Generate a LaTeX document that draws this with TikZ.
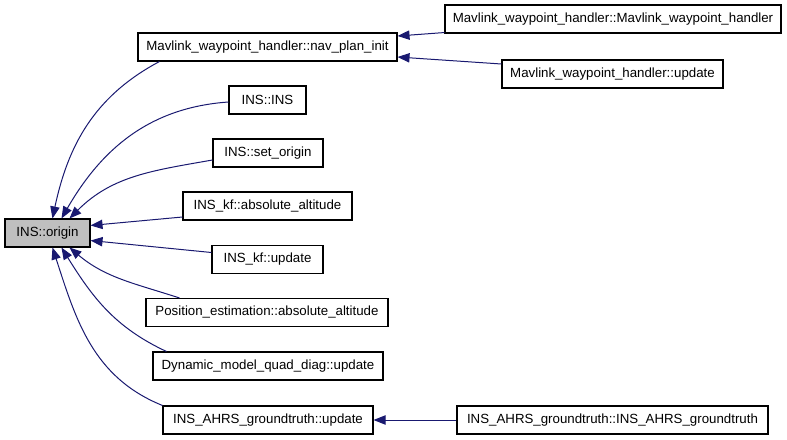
\documentclass[tikz,border=0pt]{standalone}
\usepackage{fontspec}
\setmainfont{Liberation Sans}
\usetikzlibrary{arrows.meta,calc}
\definecolor{edgeblue}{HTML}{191970}
\definecolor{boxgray}{HTML}{BFBFBF}
\tikzset{
  fn/.style={draw=black, line width=0.8bp, fill=white, inner sep=0pt,
    minimum height=28*0.75bp, font=\fontsize{10}{12}\selectfont, anchor=center},
  cur/.style={fn, fill=boxgray},
  arr/.style={draw=edgeblue, line width=0.75bp,
    {Triangle[length=9bp,width=7bp]}-},
}
\begin{document}
\begin{tikzpicture}[x=0.75bp,y=-0.75bp]
\useasboundingbox (0,0) rectangle (787,440);
% nodes
\node[cur, minimum width=85*0.75bp] (origin) at (47.5,233) {INS::origin};
\node[fn, minimum width=259*0.75bp] (nav) at (267.5,47) {Mavlink\_waypoint\_handler::nav\_plan\_init};
\node[fn, minimum width=336*0.75bp] (mwh) at (613,19) {Mavlink\_waypoint\_handler::Mavlink\_waypoint\_handler};
\node[fn, minimum width=221*0.75bp] (mwhup) at (612.5,74) {Mavlink\_waypoint\_handler::update};
\node[fn, minimum width=77*0.75bp] (ins) at (267.5,100) {INS::INS};
\node[fn, minimum width=110*0.75bp] (setorig) at (268,153) {INS::set\_origin};
\node[fn, minimum width=169*0.75bp] (kfalt) at (267.5,206) {INS\_kf::absolute\_altitude};
\node[fn, minimum width=111*0.75bp] (kfup) at (267.5,259.5) {INS\_kf::update};
\node[fn, minimum width=242*0.75bp] (posest) at (267,312.5) {Position\_estimation::absolute\_altitude};
\node[fn, minimum width=230*0.75bp] (dyn) at (268,366) {Dynamic\_model\_quad\_diag::update};
\node[fn, minimum width=210*0.75bp] (ahrsup) at (268,420) {INS\_AHRS\_groundtruth::update};
\node[fn, minimum width=311*0.75bp] (ahrs) at (612.5,420) {INS\_AHRS\_groundtruth::INS\_AHRS\_groundtruth};
% edges into origin (top)
\draw[arr] ($(origin.north west)+(48,0)$) to[out=78,in=208] ($(nav.south west)+(22,0)$);
\draw[arr] ($(origin.north west)+(57,0)$) to[out=60,in=184] ($(ins.west)+(0,2)$);
\draw[arr] ($(origin.north west)+(65,0)$) to[out=45,in=190] ($(setorig.west)+(0,7)$);
% edges into origin (right side)
\draw[arr] ($(origin.north east)+(0,7)$) -- ($(kfalt.west)+(0,11)$);
\draw[arr] ($(origin.south east)+(0,-7)$) -- ($(kfup.west)+(0,-7)$);
% edges into origin (bottom)
\draw[arr] ($(origin.south west)+(65,0)$) to[out=-40,in=162] ($(posest.north west)+(34,0)$);
\draw[arr] ($(origin.south west)+(57,0)$) to[out=-58,in=155] ($(dyn.north west)+(14,0)$);
\draw[arr] ($(origin.south west)+(48,0)$) to[out=-72,in=158] ($(ahrsup.north west)+(0,0)$);
% right side edges
\draw[arr] ($(nav.east)+(0,-11)$) -- ($(mwh.south west)+(0,-1)$);
\draw[arr] ($(nav.east)+(0,10)$) -- ($(mwhup.west)+(0,-10)$);
\draw[arr] (ahrsup.east) -- (ahrs.west);
\end{tikzpicture}
\end{document}
